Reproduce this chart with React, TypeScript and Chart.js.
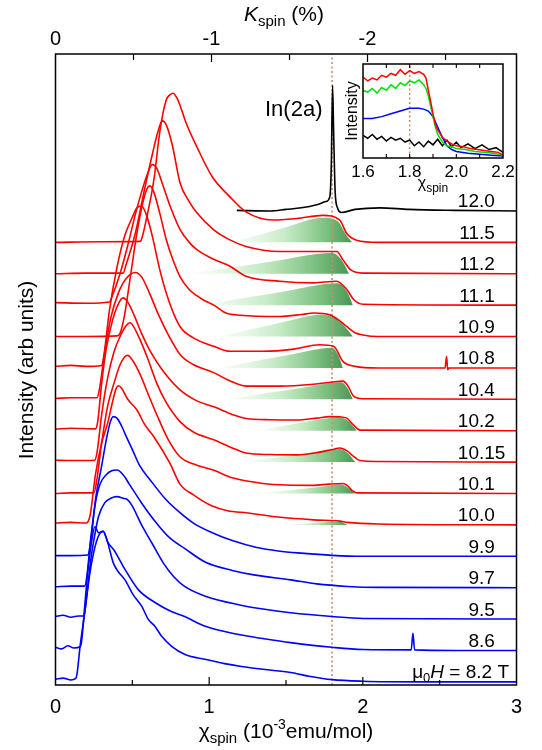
import React, { useEffect, useRef } from "react";
import { Chart, registerables } from "chart.js";
Chart.register(...registerables);

type P = [number, number];

// Field labels (T), bottom to top; stacking offset = index
const fieldLabels = ["8.2", "8.6", "9.5", "9.7", "9.9", "10.0", "10.1", "10.15", "10.2", "10.4", "10.8", "10.9", "11.1", "11.2", "11.5", "12.0"];

// Spectra: [chi_spin (1e-3 emu/mol), intensity above own baseline]
const c82: P[] = [[0, 0.08], [0.05, 0.12], [0.1, 0.06], [0.13, 0.1], [0.14, 0.25], [0.16, 1.13], [0.19, 2.2], [0.225, 3.5], [0.257, 4.3], [0.285, 4.7], [0.31, 4.79], [0.33, 4.6], [0.344, 4.37], [0.376, 3.79], [0.41, 3.5], [0.452, 3.25], [0.506, 2.77], [0.561, 2.41], [0.604, 1.99], [0.647, 1.77], [0.691, 1.45], [0.756, 1.13], [0.843, 0.87], [0.98, 0.71], [1.1, 0.58], [1.21, 0.49], [1.35, 0.4], [1.53, 0.3], [1.66, 0.17], [1.8, 0.07], [2.0, 0.02], [2.4, 0], [3, 0]];
const c86: P[] = [[0, 0.1], [0.04, 0.05], [0.08, 0.15], [0.12, 0.08], [0.16, 0.12], [0.17, 0.3], [0.19, 1.4], [0.21, 2.5], [0.23, 3.3], [0.257, 3.94], [0.28, 3.75], [0.31, 3.8], [0.34, 3.45], [0.38, 3.2], [0.45, 2.6], [0.54, 1.93], [0.65, 1.52], [0.75, 1.25], [0.84, 1.08], [0.98, 0.76], [1.2, 0.5], [1.35, 0.38], [1.53, 0.25], [1.8, 0.1], [2.0, 0.03], [2.315, 0.02], [2.326, 0.55], [2.337, 0.02], [2.6, 0], [3, 0]];
const c95: P[] = [[0, 0.08], [0.05, 0.12], [0.1, 0.06], [0.15, 0.1], [0.185, 0.1], [0.2, 0.6], [0.23, 1.9], [0.26, 2.8], [0.28, 3.27], [0.32, 3.7], [0.36, 3.85], [0.4, 3.9], [0.44, 3.85], [0.47, 3.8], [0.5, 3.6], [0.56, 3.0], [0.63, 2.4], [0.7, 1.8], [0.77, 1.35], [0.84, 1.04], [0.98, 0.72], [1.2, 0.45], [1.35, 0.32], [1.53, 0.2], [1.8, 0.08], [2.0, 0.02], [3, 0]];
const c97: P[] = [[0, 0.03], [0.1, 0.05], [0.19, 0.05], [0.205, 0.4], [0.23, 1.6], [0.26, 2.7], [0.29, 3.3], [0.33, 3.6], [0.37, 3.73], [0.4, 3.75], [0.44, 3.6], [0.48, 3.3], [0.56, 2.7], [0.65, 2.1], [0.74, 1.6], [0.84, 1.25], [0.98, 0.8], [1.15, 0.55], [1.3, 0.4], [1.53, 0.25], [1.7, 0.12], [1.9, 0.04], [2.1, 0.01], [3, 0]];
const c99: P[] = [[0, 0.02], [0.1, 0.02], [0.21, 0.04], [0.23, 0.5], [0.26, 1.8], [0.3, 2.87], [0.33, 3.7], [0.355, 4.25], [0.375, 4.45], [0.4, 4.4], [0.43, 4.15], [0.46, 3.82], [0.5, 3.4], [0.55, 2.87], [0.615, 2.44], [0.72, 1.8], [0.81, 1.39], [0.9, 1.05], [1.02, 0.75], [1.15, 0.5], [1.31, 0.28], [1.45, 0.17], [1.6, 0.1], [1.8, 0.03], [2.0, 0], [3, 0]];
const c100: P[] = [[0, 0.06], [0.1, 0.08], [0.2, 0.06], [0.225, 0.3], [0.26, 1.6], [0.3, 2.6], [0.34, 3.25], [0.37, 3.9], [0.395, 4.35], [0.41, 4.43], [0.43, 4.35], [0.47, 4.0], [0.53, 3.66], [0.58, 3.2], [0.64, 2.81], [0.745, 1.96], [0.81, 1.3], [0.9, 0.95], [1.02, 0.6], [1.12, 0.45], [1.25, 0.38], [1.45, 0.25], [1.68, 0.16], [1.85, 0.12], [1.9, 0.08], [2.1, 0.03], [3, 0]];
const c101: P[] = [[0, 0], [0.1, 0.02], [0.25, 0.02], [0.265, 0.3], [0.3, 1.6], [0.34, 2.8], [0.38, 3.5], [0.42, 4.1], [0.45, 4.35], [0.47, 4.4], [0.5, 4.25], [0.55, 3.8], [0.6, 3.2], [0.66, 2.5], [0.73, 1.75], [0.81, 1.17], [0.92, 0.9], [1.03, 0.74], [1.15, 0.5], [1.35, 0.32], [1.5, 0.27], [1.68, 0.26], [1.78, 0.3], [1.87, 0.32], [1.9, 0.25], [1.93, 0.1], [1.96, 0.02], [3, 0]];
const c1015: P[] = [[0, 0.06], [0.1, 0.05], [0.255, 0.06], [0.27, 0.3], [0.3, 1.5], [0.34, 2.7], [0.38, 3.5], [0.42, 4.0], [0.46, 4.35], [0.485, 4.44], [0.51, 4.3], [0.55, 3.9], [0.6, 3.3], [0.66, 2.5], [0.72, 1.9], [0.81, 1.29], [0.9, 0.95], [1.03, 0.71], [1.15, 0.45], [1.24, 0.29], [1.4, 0.24], [1.57, 0.23], [1.7, 0.3], [1.8, 0.4], [1.85, 0.45], [1.9, 0.35], [1.94, 0.18], [1.98, 0.05], [2.1, 0.02], [3, 0]];
const c102: P[] = [[0, 0.05], [0.1, 0.08], [0.26, 0.06], [0.275, 0.3], [0.3, 1.5], [0.33, 2.6], [0.37, 3.5], [0.41, 4.05], [0.44, 4.23], [0.47, 4.1], [0.51, 3.7], [0.56, 3.1], [0.62, 2.5], [0.7, 1.9], [0.81, 1.3], [0.92, 0.95], [1.03, 0.76], [1.15, 0.52], [1.24, 0.39], [1.4, 0.35], [1.57, 0.34], [1.7, 0.4], [1.785, 0.45], [1.85, 0.44], [1.895, 0.4], [1.94, 0.18], [1.98, 0.02], [3, 0]];
const c104: P[] = [[0, 0.03], [0.1, 0.05], [0.27, 0.05], [0.285, 0.3], [0.32, 1.5], [0.36, 2.6], [0.41, 3.4], [0.46, 3.85], [0.52, 4.04], [0.56, 3.9], [0.61, 3.4], [0.67, 2.7], [0.74, 2.0], [0.81, 1.43], [0.9, 1.1], [1.03, 0.85], [1.13, 0.6], [1.24, 0.42], [1.46, 0.42], [1.68, 0.48], [1.8, 0.55], [1.87, 0.58], [1.9, 0.45], [1.94, 0.1], [2.0, 0.02], [3, 0]];
const c108: P[] = [[0, 0.05], [0.1, 0.08], [0.2, 0.05], [0.3, 0.08], [0.315, 0.4], [0.35, 1.8], [0.4, 3.2], [0.45, 4.2], [0.5, 4.8], [0.53, 5.1], [0.56, 5.16], [0.59, 4.9], [0.63, 4.2], [0.68, 3.1], [0.74, 2.1], [0.81, 1.32], [0.9, 0.95], [1.03, 0.69], [1.135, 0.53], [1.35, 0.53], [1.55, 0.6], [1.72, 0.74], [1.81, 0.69], [1.87, 0.21], [1.95, 0.05], [2.1, 0], [2.535, 0], [2.545, 0.37], [2.552, -0.06], [2.56, 0], [3, 0]];
const c109: P[] = [[0, 0], [0.2, 0], [0.4, 0.02], [0.42, 0.1], [0.45, 0.7], [0.49, 2.0], [0.53, 3.3], [0.57, 4.3], [0.6, 4.75], [0.615, 4.8], [0.64, 4.6], [0.68, 3.9], [0.72, 3.1], [0.76, 2.5], [0.81, 1.91], [0.87, 1.5], [0.92, 1.3], [0.96, 1.17], [1.03, 1.0], [1.11, 0.75], [1.2, 0.68], [1.46, 0.64], [1.6, 0.7], [1.68, 0.75], [1.785, 0.69], [1.85, 0.5], [1.895, 0.32], [1.95, 0.12], [2.0, 0.05], [2.1, 0], [3, 0]];
const c111: P[] = [[0, 0.08], [0.2, 0.06], [0.35, 0.1], [0.37, 0.3], [0.42, 1.0], [0.47, 1.9], [0.52, 2.9], [0.56, 3.6], [0.6, 4.2], [0.63, 4.48], [0.66, 4.35], [0.7, 3.8], [0.75, 3.1], [0.81, 2.41], [0.87, 2.0], [0.92, 1.77], [1.03, 1.46], [1.135, 1.24], [1.24, 0.92], [1.46, 0.76], [1.68, 0.71], [1.83, 0.76], [1.895, 0.5], [1.94, 0.18], [2.0, 0.03], [3, 0]];
const c112: P[] = [[0, 0], [0.2, 0.02], [0.44, 0.02], [0.46, 0.3], [0.52, 1.3], [0.58, 2.7], [0.63, 3.8], [0.665, 4.5], [0.695, 4.87], [0.72, 4.75], [0.76, 4.1], [0.81, 2.9], [0.87, 2.3], [0.92, 1.94], [1.03, 1.4], [1.135, 1.08], [1.24, 0.87], [1.46, 0.71], [1.68, 0.71], [1.83, 0.71], [1.87, 0.45], [1.92, 0.13], [2.0, 0.02], [3, 0]];
const c115: P[] = [[0, 0], [0.3, 0.02], [0.55, 0.03], [0.56, 0.1], [0.59, 0.71], [0.64, 1.98], [0.68, 3.57], [0.72, 4.53], [0.745, 4.7], [0.765, 4.75], [0.79, 4.6], [0.81, 4.37], [0.85, 3.8], [0.92, 3.04], [1.02, 2.09], [1.135, 1.45], [1.24, 0.97], [1.415, 0.71], [1.57, 0.76], [1.74, 0.86], [1.85, 0.71], [1.895, 0.28], [1.96, 0.07], [2.1, 0], [3, 0]];
const c120: P[] = [[1.18, 0.02], [1.4, 0], [1.5, 0.05], [1.6, 0.1], [1.7, 0.2], [1.76, 0.3], [1.785, 0.45], [1.795, 1.5], [1.803, 4.0], [1.81, 2.5], [1.82, 0.6], [1.835, 0.1], [1.86, -0.05], [1.95, 0.05], [2.11, 0.1], [2.3, 0.05], [2.6, 0.02], [3, 0]];

const curves: P[][] = [c82, c86, c95, c97, c99, c100, c101, c1015, c102, c104, c108, c109, c111, c112, c115, c120];
const curveColors = ["#0000ff", "#0000ff", "#0000ff", "#0000ff", "#0000ff", "#ff0000", "#ff0000", "#ff0000", "#ff0000", "#ff0000", "#ff0000", "#ff0000", "#ff0000", "#ff0000", "#ff0000", "#000000"];

// Shaded (green) regions under the high-chi shoulder
const greenFields = ["10.0", "10.1", "10.15", "10.2", "10.4", "10.8", "10.9", "11.1", "11.2", "11.5"];
const g100: P[] = [[1.5, 0], [1.85, 0.1], [1.9, 0]];
const g101: P[] = [[1.32, 0], [1.7, 0.2], [1.86, 0.29], [1.9, 0.2], [1.95, 0]];
const g1015: P[] = [[1.22, 0], [1.65, 0.3], [1.85, 0.42], [1.9, 0.3], [1.95, 0]];
const g102: P[] = [[1.32, 0], [1.65, 0.3], [1.84, 0.42], [1.9, 0.33], [1.96, 0]];
const g104: P[] = [[1.12, 0], [1.6, 0.36], [1.86, 0.54], [1.9, 0.35], [1.935, 0]];
const g108: P[] = [[1.07, 0], [1.55, 0.44], [1.8, 0.64], [1.84, 0.4], [1.87, 0]];
const g109: P[] = [[1.07, 0], [1.45, 0.42], [1.74, 0.7], [1.84, 0.52], [1.89, 0.28], [1.935, 0]];
const g111: P[] = [[0.94, 0], [1.45, 0.4], [1.84, 0.7], [1.9, 0.4], [1.935, 0]];
const g112: P[] = [[0.88, 0], [1.4, 0.38], [1.8, 0.66], [1.86, 0.45], [1.91, 0]];
const g115: P[] = [[1.155, 0], [1.5, 0.48], [1.74, 0.78], [1.84, 0.66], [1.89, 0.25], [1.93, 0]];
const greens: P[][] = [g100, g101, g1015, g102, g104, g108, g109, g111, g112, g115];

// Inset spectra (normalised intensity)
const insetRed: P[] = [[1.6, 0.86], [1.62, 0.82], [1.64, 0.85], [1.66, 0.83], [1.68, 0.88], [1.7, 0.86], [1.72, 0.9], [1.74, 0.88], [1.76, 0.94], [1.78, 0.89], [1.8, 0.93], [1.82, 0.9], [1.84, 0.92], [1.86, 0.89], [1.87, 0.85], [1.88, 0.72], [1.89, 0.6], [1.9, 0.47], [1.91, 0.36], [1.92, 0.3], [1.94, 0.22], [1.96, 0.18], [1.98, 0.15], [2.0, 0.13], [2.03, 0.12], [2.06, 0.1], [2.09, 0.09], [2.12, 0.08], [2.15, 0.07], [2.18, 0.06], [2.2, 0.03]];
const insetGreen: P[] = [[1.6, 0.72], [1.62, 0.7], [1.64, 0.74], [1.66, 0.69], [1.68, 0.75], [1.7, 0.72], [1.72, 0.78], [1.74, 0.74], [1.76, 0.8], [1.78, 0.77], [1.8, 0.82], [1.82, 0.8], [1.84, 0.83], [1.86, 0.78], [1.87, 0.74], [1.88, 0.66], [1.89, 0.55], [1.9, 0.44], [1.91, 0.33], [1.92, 0.25], [1.94, 0.17], [1.96, 0.13], [1.98, 0.12], [2.0, 0.1], [2.04, 0.09], [2.08, 0.07], [2.12, 0.06], [2.16, 0.05], [2.2, 0.03]];
const insetBlue: P[] = [[1.6, 0.42], [1.64, 0.42], [1.68, 0.44], [1.72, 0.47], [1.76, 0.5], [1.8, 0.53], [1.84, 0.53], [1.86, 0.52], [1.88, 0.5], [1.9, 0.44], [1.92, 0.33], [1.94, 0.22], [1.96, 0.13], [1.98, 0.09], [2.0, 0.07], [2.05, 0.05], [2.1, 0.04], [2.15, 0.03], [2.2, 0.02]];
const insetBlack: P[] = [[1.6, 0.24], [1.62, 0.21], [1.64, 0.25], [1.66, 0.2], [1.68, 0.23], [1.7, 0.18], [1.72, 0.22], [1.74, 0.19], [1.76, 0.21], [1.78, 0.17], [1.8, 0.19], [1.82, 0.13], [1.84, 0.17], [1.86, 0.12], [1.88, 0.18], [1.9, 0.14], [1.92, 0.2], [1.94, 0.13], [1.96, 0.19], [1.98, 0.12], [2.0, 0.17], [2.02, 0.11], [2.05, 0.15], [2.08, 0.1], [2.11, 0.14], [2.14, 0.09], [2.17, 0.11], [2.2, 0.06]];

// Axes
const chiMin = 0, chiMax = 3;
const kMin = -2.955, kMax = 0;
const offMin = -0.1, offMax = 20;
const chiTicks = [0.5, 1, 1.5, 2, 2.5];
const chiLabels = [0, 1, 2, 3];
const kTicks = [-0.5, -1, -1.5, -2, -2.5];
const kLabels = [0, -1, -2];
const markChi = 1.8;
const insetMin = 1.6, insetMax = 2.2;
const insetTicks = [1.7, 1.8, 1.9, 2.0, 2.1];
const insetLabels = ["1.6", "1.8", "2.0", "2.2"];

const FONT = '"Liberation Sans", Arial, Helvetica, sans-serif';

type Part = { t: string; size: number; dy?: number; italic?: boolean; w?: number };
function drawRich(ctx: CanvasRenderingContext2D, x: number, y: number, parts: Part[], align: "left" | "center" | "right") {
  let total = 0;
  for (const p of parts) {
    ctx.font = `${p.italic ? "italic " : ""}${p.size}px ${FONT}`;
    p.w = ctx.measureText(p.t).width;
    total += p.w;
  }
  let cx = align === "center" ? x - total / 2 : align === "right" ? x - total : x;
  ctx.textAlign = "left";
  ctx.textBaseline = "alphabetic";
  for (const p of parts) {
    ctx.font = `${p.italic ? "italic " : ""}${p.size}px ${FONT}`;
    ctx.fillText(p.t, cx, y + (p.dy || 0));
    cx += p.w || 0;
  }
}

function line(ctx: CanvasRenderingContext2D, x1: number, y1: number, x2: number, y2: number) {
  ctx.beginPath();
  ctx.moveTo(x1, y1);
  ctx.lineTo(x2, y2);
  ctx.stroke();
}

const mainOverlay = {
  id: "mainOverlay",
  afterDraw(chart: any) {
    const { ctx, chartArea: a, scales } = chart;
    const xs = scales.x, xt = scales.xTop, ys = scales.y;
    ctx.save();
    ctx.strokeStyle = "#000";
    ctx.fillStyle = "#000";
    ctx.lineWidth = 1.5;
    ctx.strokeRect(a.left, a.top, a.right - a.left, a.bottom - a.top);
    ctx.lineWidth = 1.2;
    for (const v of chiTicks) {
      const px = xs.getPixelForValue(v);
      line(ctx, px, a.bottom, px, a.bottom - (Number.isInteger(v) ? 8 : 5));
    }
    for (const v of kTicks) {
      const px = xt.getPixelForValue(v);
      line(ctx, px, a.top, px, a.top + (Number.isInteger(v) ? 8 : 6));
    }
    ctx.font = `20px ${FONT}`;
    ctx.textAlign = "center";
    ctx.textBaseline = "middle";
    for (const v of chiLabels) ctx.fillText(String(v), xs.getPixelForValue(v), a.bottom + 22);
    for (const v of kLabels) ctx.fillText(String(v), xt.getPixelForValue(v), a.top - 15);
    // axis titles
    drawRich(ctx, 284, a.top - 33, [
      { t: "K", size: 21, italic: true },
      { t: "spin", size: 15, dy: 5 },
      { t: " (%)", size: 21 },
    ], "center");
    drawRich(ctx, 286, a.bottom + 53, [
      { t: "\u03c7", size: 21 },
      { t: "spin", size: 15, dy: 5 },
      { t: " (10", size: 21 },
      { t: "-3", size: 14, dy: -9 },
      { t: "emu/mol)", size: 21 },
    ], "center");
    ctx.save();
    ctx.translate(27, 370);
    ctx.rotate(-Math.PI / 2);
    ctx.font = `21px ${FONT}`;
    ctx.textAlign = "center";
    ctx.textBaseline = "middle";
    ctx.fillText("Intensity (arb units)", 0, 0);
    ctx.restore();
    // field labels (decimal aligned)
    ctx.font = `19px ${FONT}`;
    ctx.textAlign = "left";
    ctx.textBaseline = "alphabetic";
    const decX = 479;
    fieldLabels.forEach((lab, i) => {
      const yb = ys.getPixelForValue(i) - 3.5;
      if (i === 0) {
        drawRich(ctx, 509, yb, [
          { t: "\u03bc", size: 19 },
          { t: "0", size: 13, dy: 4 },
          { t: "H", size: 19, italic: true },
          { t: " = 8.2 T", size: 19 },
        ], "right");
        return;
      }
      ctx.font = `19px ${FONT}`;
      const intPart = lab.split(".")[0];
      const w = ctx.measureText(intPart).width;
      ctx.fillText(lab, decX - w, yb);
    });
    ctx.font = `22px ${FONT}`;
    ctx.fillText("In(2a)", 265, 116);
    ctx.restore();
  },
};

const insetOverlay = {
  id: "insetOverlay",
  beforeDraw(chart: any) {
    const { ctx, chartArea: a } = chart;
    ctx.save();
    ctx.fillStyle = "#fff";
    ctx.fillRect(a.left, a.top, a.right - a.left, a.bottom - a.top);
    ctx.restore();
  },
  afterDraw(chart: any) {
    const { ctx, chartArea: a, scales } = chart;
    const xs = scales.x;
    ctx.save();
    ctx.strokeStyle = "#000";
    ctx.fillStyle = "#000";
    ctx.lineWidth = 1.5;
    ctx.strokeRect(a.left, a.top, a.right - a.left, a.bottom - a.top);
    ctx.lineWidth = 1.1;
    for (const v of insetTicks) {
      const px = xs.getPixelForValue(v);
      line(ctx, px, a.bottom, px, a.bottom - 4);
      line(ctx, px, a.top, px, a.top + 4);
    }
    ctx.font = `17px ${FONT}`;
    ctx.textAlign = "center";
    ctx.textBaseline = "middle";
    for (const lab of insetLabels) ctx.fillText(lab, xs.getPixelForValue(parseFloat(lab)), a.bottom + 14);
    drawRich(ctx, (a.left + a.right) / 2, a.bottom + 30, [
      { t: "\u03c7", size: 16 },
      { t: "spin", size: 12, dy: 4 },
    ], "center");
    ctx.save();
    ctx.translate(a.left - 10, (a.top + a.bottom) / 2);
    ctx.rotate(-Math.PI / 2);
    ctx.font = `16px ${FONT}`;
    ctx.textAlign = "center";
    ctx.textBaseline = "middle";
    ctx.fillText("Intensity", 0, 0);
    ctx.restore();
    ctx.restore();
  },
};

function toXY(pts: P[], off: number) {
  return pts.map(([x, y]) => ({ x, y: y + off }));
}

function greenGradient(pts: P[]) {
  return (c: any) => {
    const ch = c.chart;
    const xs = ch.scales && ch.scales.x;
    if (!xs || !ch.chartArea) return "rgba(120,190,120,0.6)";
    const x0 = xs.getPixelForValue(pts[0][0]);
    const x1 = xs.getPixelForValue(pts[pts.length - 1][0]);
    const g = ch.ctx.createLinearGradient(x0, 0, x1, 0);
    g.addColorStop(0, "rgba(235,250,235,0.4)");
    g.addColorStop(0.45, "rgba(190,232,190,0.9)");
    g.addColorStop(0.8, "rgb(120,190,125)");
    g.addColorStop(1, "rgb(75,150,85)");
    return g;
  };
}

export default function App() {
  const mainRef = useRef<HTMLCanvasElement>(null);
  const insetRef = useRef<HTMLCanvasElement>(null);

  useEffect(() => {
    document.body.style.margin = "0";
    const datasets: any[] = [];
    curves.forEach((pts, i) => {
      datasets.push({
        data: toXY(pts, i),
        borderColor: curveColors[i],
        borderWidth: 1.6,
        pointRadius: 0,
        fill: false,
        cubicInterpolationMode: "monotone",
        xAxisID: "x",
        yAxisID: "y",
        order: 1,
      });
    });
    datasets.push({
      data: [{ x: markChi, y: offMin }, { x: markChi, y: offMax }],
      borderColor: "#c98e6e",
      borderWidth: 1.6,
      borderDash: [2, 2.5],
      pointRadius: 0,
      fill: false,
      xAxisID: "x",
      yAxisID: "y",
      order: 2,
    });
    greens.forEach((pts, j) => {
      const off = fieldLabels.indexOf(greenFields[j]);
      datasets.push({
        data: toXY(pts, off),
        borderWidth: 0,
        borderColor: "rgba(0,0,0,0)",
        pointRadius: 0,
        fill: { value: off },
        backgroundColor: greenGradient(pts),
        cubicInterpolationMode: "monotone",
        xAxisID: "x",
        yAxisID: "y",
        order: 3,
      });
    });

    const main = new Chart(mainRef.current!, {
      type: "line",
      data: { datasets },
      options: {
        animation: false,
        responsive: false,
        events: [],
        parsing: false as any,
        layout: { padding: { left: 55.5, right: 25.5, top: 54, bottom: 65 } },
        plugins: { legend: { display: false }, tooltip: { enabled: false } },
        scales: {
          x: { type: "linear", min: chiMin, max: chiMax, display: false },
          xTop: { type: "linear", axis: "x", position: "top", min: kMin, max: kMax, reverse: true, display: false },
          y: { type: "linear", min: offMin, max: offMax, display: false },
        },
      } as any,
      plugins: [mainOverlay],
    });

    const insetSets = [
      { pts: insetBlack, color: "#000000" },
      { pts: insetBlue, color: "#0000ff" },
      { pts: insetGreen, color: "#00e000" },
      { pts: insetRed, color: "#ff0000" },
    ];
    const insetDatasets: any[] = insetSets.map((s, i) => ({
      data: toXY(s.pts, 0),
      borderColor: s.color,
      borderWidth: 1.5,
      pointRadius: 0,
      fill: false,
      order: 4 - i,
    }));
    insetDatasets.push({
      data: [{ x: markChi, y: 0 }, { x: markChi, y: 1 }],
      borderColor: "#c98e6e",
      borderWidth: 1.5,
      borderDash: [2, 2.5],
      pointRadius: 0,
      fill: false,
      order: 10,
    });
    const inset = new Chart(insetRef.current!, {
      type: "line",
      data: { datasets: insetDatasets },
      options: {
        animation: false,
        responsive: false,
        events: [],
        parsing: false as any,
        layout: { padding: { left: 27, right: 15, top: 8, bottom: 38 } },
        plugins: { legend: { display: false }, tooltip: { enabled: false } },
        scales: {
          x: { type: "linear", min: insetMin, max: insetMax, display: false },
          y: { type: "linear", min: 0, max: 1, display: false },
        },
      } as any,
      plugins: [insetOverlay],
    });

    return () => {
      main.destroy();
      inset.destroy();
    };
  }, []);

  return (
    <div style={{ position: "absolute", left: 0, top: 0, width: 542, height: 750, background: "#fff" }}>
      <canvas ref={mainRef} width={542} height={750} style={{ position: "absolute", left: 0, top: 0 }} />
      <canvas ref={insetRef} width={182} height={140} style={{ position: "absolute", left: 336, top: 56 }} />
    </div>
  );
}
